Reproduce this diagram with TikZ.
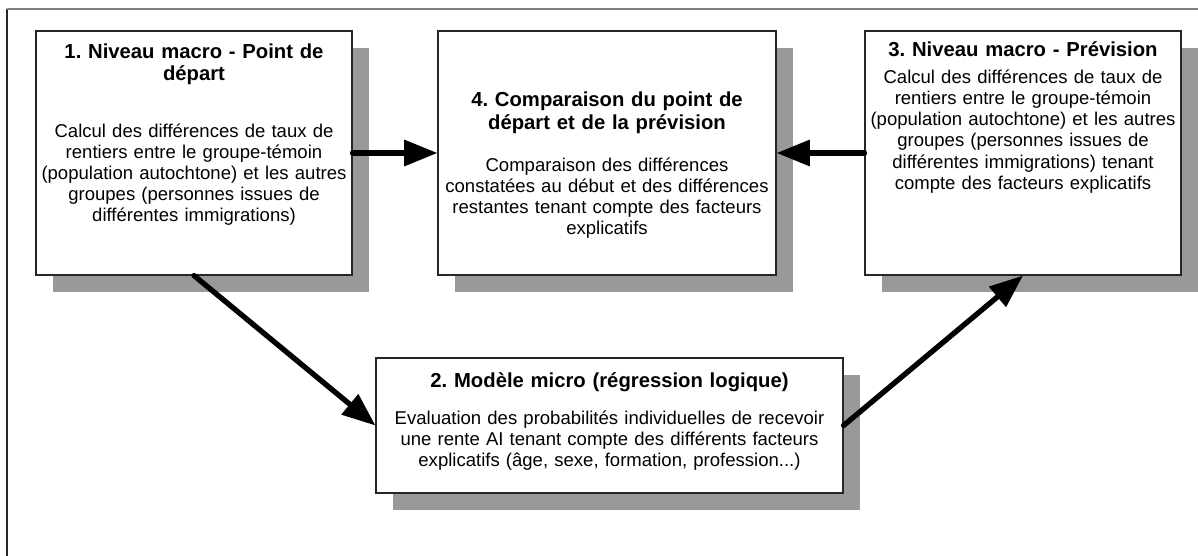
\documentclass[tikz,border=0pt]{standalone}
\usepackage{fontspec}
\setmainfont{Liberation Sans}
\usepackage{tikz}
\usetikzlibrary{positioning,arrows.meta,shadows}

\definecolor{shadowgray}{gray}{0.6}
\frenchspacing

\begin{document}
\begin{tikzpicture}[
  x=0.75pt, y=-0.75pt,
  stagebox/.style={rectangle, draw=black!85, line width=0.8pt, fill=white, inner sep=0pt,
    drop shadow={shadow xshift=12.75pt, shadow yshift=-12.75pt, fill=shadowgray, opacity=1}},
  headtext/.style={font=\bfseries\fontsize{15.2}{17}\selectfont, align=center, text width=#1, inner sep=0pt},
  bodytext/.style={font=\fontsize{13.9}{15.9}\selectfont, align=center, text width=#1, inner sep=0pt},
  flow/.style={line width=4pt, line cap=round, -{Triangle[length=25pt,width=19pt]}},
]

\useasboundingbox (0,0) rectangle (1198,556);

% outer frame
\draw[black!85, line width=1pt] (7,556) -- (7,9);
\draw[gray, line width=1pt] (7,9) -- (1198,9);

% stages
\node[stagebox, minimum width=237pt, minimum height=183pt] (b1) at (194,153) {};
\node[stagebox, minimum width=253.5pt, minimum height=183pt] (b4) at (607,153) {};
\node[stagebox, minimum width=237pt, minimum height=183pt] (b3) at (1023,153) {};
\node[stagebox, minimum width=350.25pt, minimum height=101.25pt] (b2) at (609.5,425.5) {};

\node[headtext=232pt, below=9.5pt of b1.north] (h1) {1. Niveau macro - Point de\\départ};
\node[bodytext=232pt, below=28.5pt of h1] (t1) {Calcul des différences de taux de\\rentiers entre le groupe-témoin\\(population autochtone) et les autres\\groupes (personnes issues de\\différentes immigrations)};

\node[headtext=248pt, below=46pt of b4.north] (h4) {4. Comparaison du point de\\départ et de la prévision};
\node[bodytext=248pt, below=17.5pt of h4] (t4) {Comparaison des différences\\constatées au début et des différences\\restantes tenant compte des facteurs\\explicatifs};

\node[headtext=232pt, below=8pt of b3.north] (h3) {3. Niveau macro - Prévision};
\node[bodytext=232pt, below=9.5pt of h3] (t3) {Calcul des différences de taux de\\rentiers entre le groupe-témoin\\(population autochtone) et les autres\\groupes (personnes issues de\\différentes immigrations) tenant\\compte des facteurs explicatifs};

\node[headtext=345pt, below=11pt of b2.north] (h2) {2. Modèle micro (régression logique)};
\node[bodytext=345pt, below=14pt of h2] (t2) {Evaluation des probabilités individuelles de recevoir\\une rente AI tenant compte des différents facteurs\\explicatifs (âge, sexe, formation, profession...)};

% connections
\draw[flow] (b1.east) -- (b4.west);
\draw[flow] (b3.west) -- (b4.east);
\draw[flow] (b1.south) -- (b2.west);
\draw[flow] (b2.east) -- (b3.south);
\end{tikzpicture}
\end{document}
